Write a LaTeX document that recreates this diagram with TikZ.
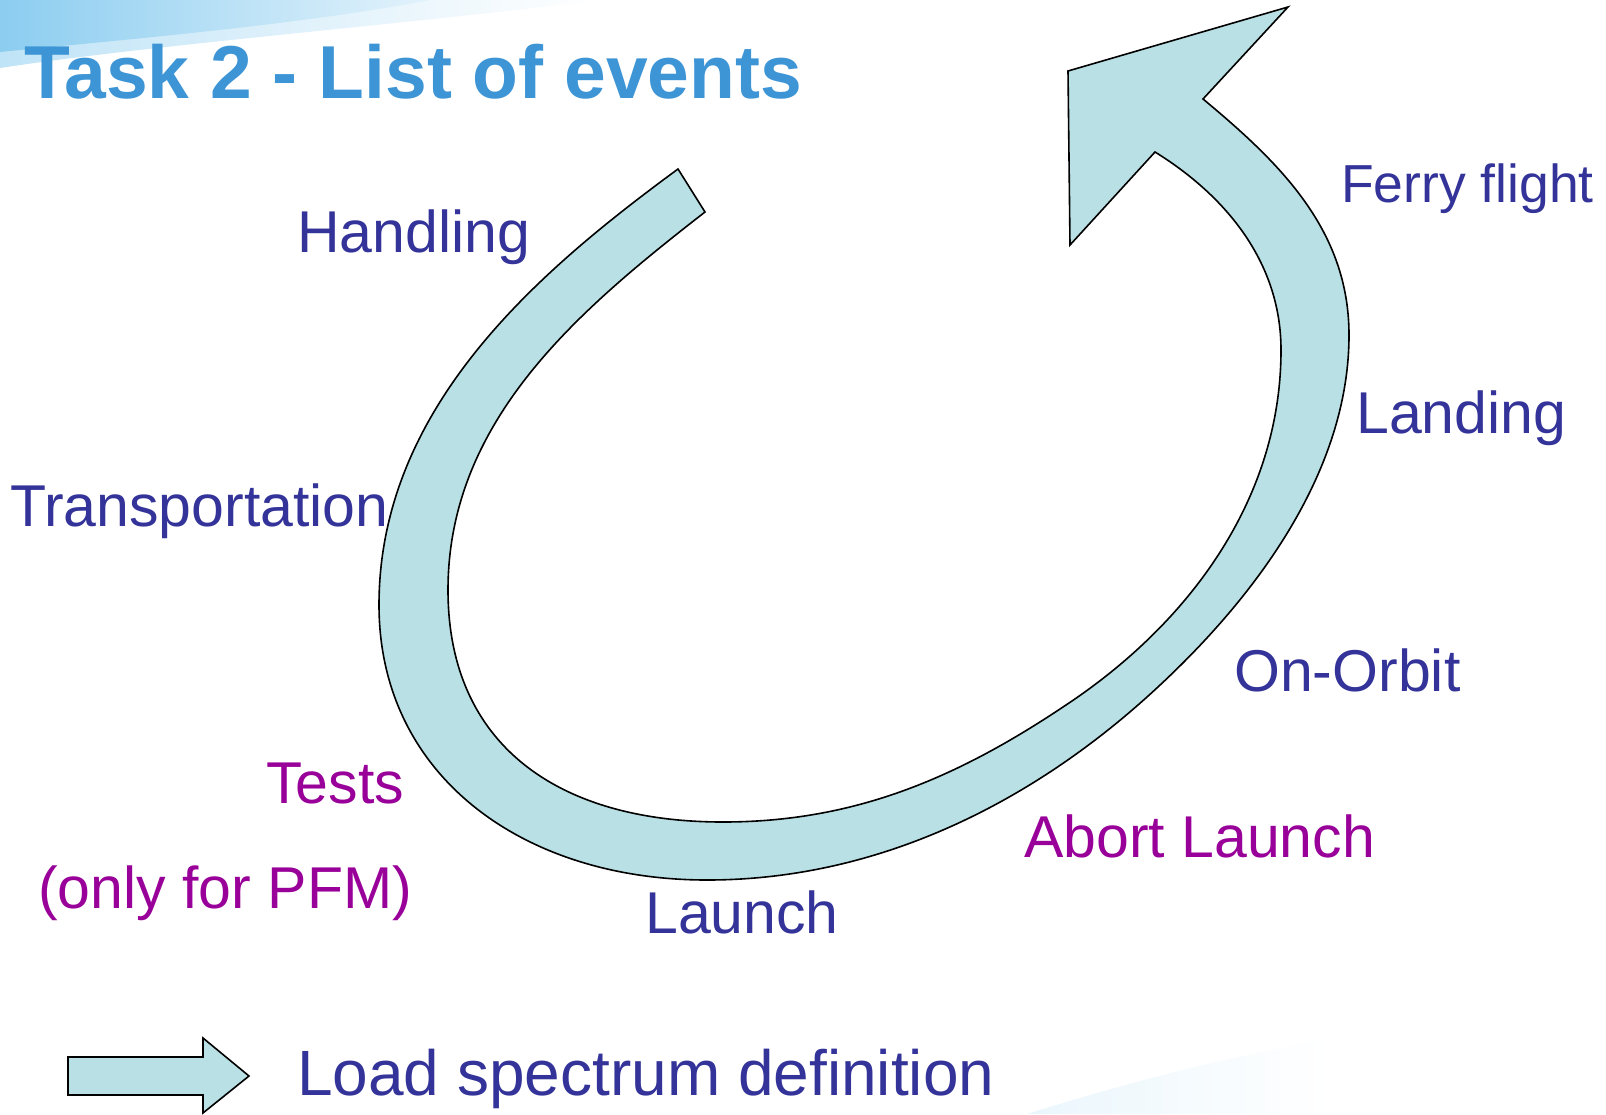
\documentclass[tikz,border=0pt]{standalone}
\usepackage{fontspec}
\setmainfont{Liberation Sans}
\usepackage{tikz}
\definecolor{evblue}{RGB}{51,51,153}
\definecolor{evpurple}{RGB}{153,0,153}
\definecolor{ttlblue}{RGB}{61,149,214}
\definecolor{bandfill}{RGB}{185,224,228}
\definecolor{swoosh}{RGB}{140,205,240}

\begin{document}
\begin{tikzpicture}[x=1pt,y=-1pt]
\tikzset{lbl/.style = {anchor=base west,inner sep=0pt,text=evblue,font=\fontsize{59}{63}\selectfont}}
\tikzset{lblp/.style = {lbl,text=evpurple}}
\tikzset{band/.style = {fill=bandfill,draw=black,line width=1.6pt}}
\useasboundingbox (0,0) rectangle (1606,1114);
% background
\fill[white] (0,0) rectangle (1606,1114);
\shade[left color=swoosh!55,right color=white] (0,0) -- (600,0) .. controls (400,25) and (150,45) .. (0,68) -- cycle;
\shade[left color=swoosh,right color=swoosh!25] (0,0) -- (430,0) .. controls (300,25) and (120,40) .. (0,52) -- cycle;
\shade[left color=swoosh!18,right color=white] (1027,1114) .. controls (1120,1085) and (1230,1055) .. (1330,1040) -- (1330,1114) -- cycle;
% title
\node[anchor=base west,inner sep=0pt,text=ttlblue,font=\fontsize{75}{80}\selectfont\bfseries] (title) at (24,98) {Task 2 - List of events};
% event cycle arrow
\draw[band] (1203,99) .. controls (1280,163) and (1349,230) .. (1349,335)
  .. controls (1349,470) and (1258,597) .. (1147,697)
  .. controls (1028,804) and (877,880) .. (707,880)
  .. controls (522,880) and (379,775) .. (379,605)
  .. controls (379,405) and (542,269) .. (678,169)
  -- (705,212)
  .. controls (579,310) and (448,420) .. (448,590)
  .. controls (448,745) and (558,822) .. (723,822)
  .. controls (853,822) and (955,779) .. (1063,707)
  .. controls (1188,625) and (1281,500) .. (1281,350)
  .. controls (1281,260) and (1223,194) .. (1155,152)
  -- (1070,245) -- (1068,71) -- (1288,7) -- cycle;
% events
\node[lbl] (handling) at (297,252) {Handling};
\node[lbl,font=\fontsize{53.5}{58}\selectfont] (ferry) at (1341,202) {Ferry flight};
\node[lbl] (transport) at (10,526) {Transportation};
\node[lbl] (landing) at (1356,433) {Landing};
\node[lbl] (orbit) at (1234,691) {On-Orbit};
\node[lblp] (tests) at (266,803) {Tests};
\node[lblp] (pfm) at (38,908) {(only for PFM)};
\node[lblp] (abort) at (1024,857) {Abort Launch};
\node[lbl] (launch) at (645,933) {Launch};
% legend
\draw[band] (68,1057) -- (203,1057) -- (203,1038) -- (249,1076) -- (203,1113) -- (203,1095) -- (68,1095) -- cycle;
\node[lbl,font=\fontsize{64}{68}\selectfont] (loadspec) at (297,1095) {Load spectrum definition};
\end{tikzpicture}
\end{document}
